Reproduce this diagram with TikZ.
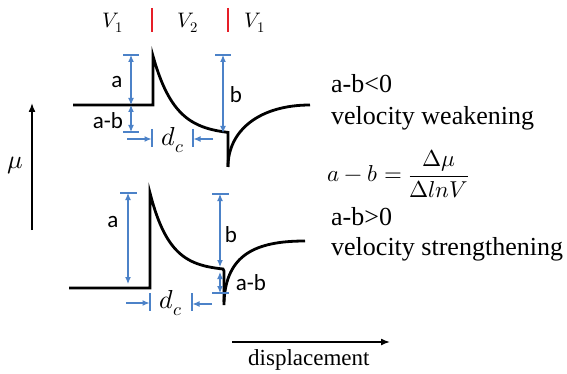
\documentclass[tikz,border=0pt]{standalone}
\usepackage{fontspec}
\usepackage{unicode-math}
\setmainfont{Liberation Serif}
\setmathfont{Latin Modern Math}
\newfontfamily\calibfont{Carlito}
\usetikzlibrary{arrows.meta}
\definecolor{dimblue}{RGB}{76,130,200}
\definecolor{tickred}{RGB}{230,30,40}
\begin{document}
\begin{tikzpicture}[x=1pt,y=-1pt,
  curve/.style={line width=2.8pt, line join=miter},
  dimline/.style={dimblue, line width=1.1pt},
  dimarrow/.style={dimline, {Latex[length=7pt,width=6pt]}-{Latex[length=7pt,width=6pt]}},
  dimone/.style={dimline, -{Latex[length=7pt,width=6pt]}},
  axisarrow/.style={line width=1.5pt, -{Latex[length=9pt,width=7pt]}},
  redtick/.style={tickred, line width=1.6pt},
  lab/.style={font=\calibfont\fontsize{23}{26}\selectfont, inner sep=0pt},
  mlab/.style={font=\fontsize{26}{30}\selectfont, inner sep=0pt},
  vlab/.style={font=\fontsize{21}{24}\selectfont, inner sep=0pt},
  rtext/.style={font=\fontsize{26}{30}\selectfont, inner sep=0pt, anchor=base west},
]
\useasboundingbox (0,0) rectangle (567,374);

% velocity regimes
\node[vlab] (v1a) at (113,23) {$V_1$};
\node[vlab] (v2) at (188,23) {$V_2$};
\node[vlab] (v1b) at (255,23) {$V_1$};
\draw[redtick] (152,8) -- (152,32);
\draw[redtick] (228,8) -- (228,32);

% top curve
\draw[curve] (73,105) -- (153,105) -- (153,56)
  -- plot[domain=153:228,samples=60] (\x,{135-79*exp(-(\x-153)/22)})
  -- (228,135) -- (228,167);
\draw[curve] (228,167) .. controls (228,130) and (260,105) .. (310,105);

% top dimensions
\coordinate (ta1) at (131,55);
\coordinate (ta2) at (131,105);
\coordinate (ta3) at (131,132);
\draw[dimline] (123,55) -- (139,55);
\draw[dimline] (123,132) -- (139,132);
\draw[dimarrow] (ta1) -- (ta2);
\draw[dimarrow] (ta2) -- (ta3);
\node[lab] (la) at (117,82) {a};
\node[lab] (lab1) at (108,121) {a-b};
\coordinate (tb1) at (223,55);
\coordinate (tb2) at (223,133);
\draw[dimline] (215,55) -- (231,55);
\draw[dimarrow] (tb1) -- (tb2);
\node[lab] (lb) at (236,95) {b};
\coordinate (td1) at (127,139);
\coordinate (td2) at (151.5,139);
\coordinate (td3) at (213,139);
\coordinate (td4) at (193.5,139);
\draw[dimone] (td1) -- (td2);
\draw[dimone] (td3) -- (td4);
\draw[dimline] (152,129) -- (152,147);
\draw[dimline] (193,129) -- (193,147);
\node[mlab] (dc1) at (173,140) {$d_c$};

% mu axis
\coordinate (mu0) at (32,230);
\coordinate (mu1) at (32,103);
\draw[axisarrow] (mu0) -- (mu1);
\node[mlab] (mu) at (15,166) {$\mu$};

% bottom curve
\draw[curve] (69,288) -- (150,288) -- (150,193)
  -- plot[domain=150:223,samples=60] (\x,{271-78*exp(-(\x-150)/20)})
  -- (224,271) -- (224,305);
\draw[curve] (224,302) .. controls (226,255) and (255,241) .. (305,241);

% bottom dimensions
\coordinate (ba1) at (128,193);
\coordinate (ba2) at (128,284);
\draw[dimline] (120,193) -- (137,193);
\draw[dimarrow] (ba1) -- (ba2);
\node[lab] (lab2) at (113,222) {a};
\coordinate (bb1) at (220,194);
\coordinate (bb2) at (220,267);
\coordinate (bb3) at (220,272);
\coordinate (bb4) at (220,293);
\draw[dimline] (212,194) -- (229,194);
\draw[dimline] (212,293) -- (229,293);
\draw[dimarrow] (bb1) -- (bb2);
\draw[dimarrow] (bb3) -- (bb4);
\node[lab] (lb2) at (231,235) {b};
\node[lab] (lab3) at (251,283) {a-b};
\coordinate (bd1) at (126,303);
\coordinate (bd2) at (149.5,303);
\coordinate (bd3) at (212,304);
\coordinate (bd4) at (192.5,304);
\draw[dimone] (bd1) -- (bd2);
\draw[dimone] (bd3) -- (bd4);
\draw[dimline] (150,293) -- (150,311);
\draw[dimline] (192,293) -- (192,311);
\node[mlab] (dc2) at (171,303) {$d_c$};

% displacement axis
\coordinate (dx0) at (232,342);
\coordinate (dx1) at (390,342);
\draw[axisarrow] (dx0) -- (dx1);
\node[font=\fontsize{23}{28}\selectfont, inner sep=0pt, anchor=base west] (disp) at (248,365) {displacement};

% right texts
\node[rtext] (t1) at (331,93) {a-b<0};
\node[rtext] (t2) at (331,125) {velocity weakening};
\node[font=\fontsize{23}{26}\selectfont, inner sep=0pt, anchor=west] (eq) at (327,174) {$a-b=\displaystyle\frac{\Delta\mu}{\Delta lnV}$};
\node[rtext] (t3) at (331,225) {a-b>0};
\node[rtext] (t4) at (331,255) {velocity strengthening};
\end{tikzpicture}
\end{document}
